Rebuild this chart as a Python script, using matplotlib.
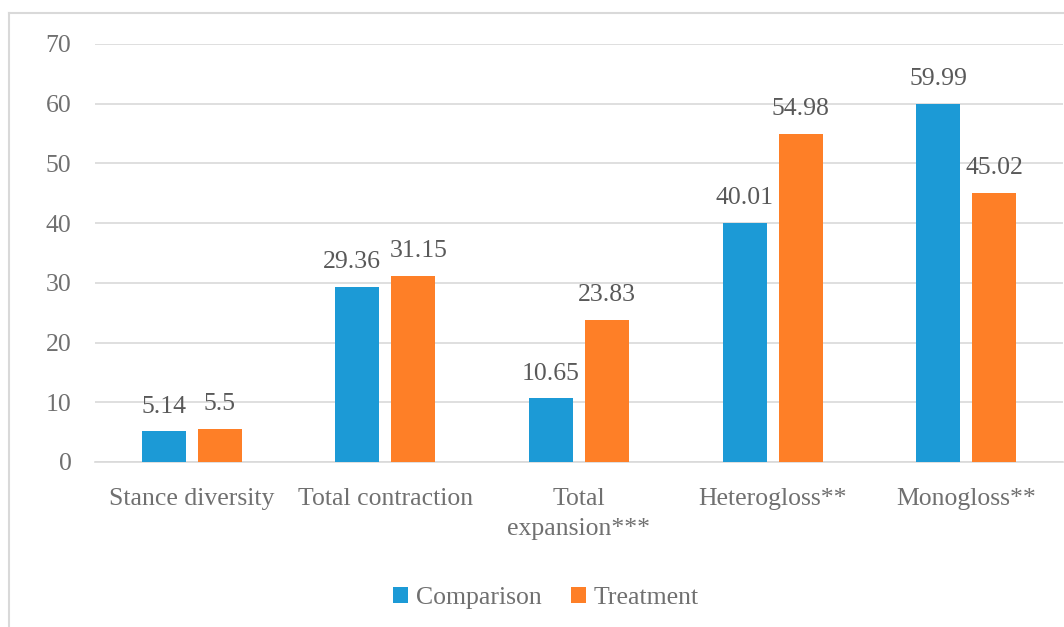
import matplotlib
matplotlib.use('Agg')
import matplotlib.pyplot as plt
from matplotlib.lines import Line2D
import numpy as np

categories = ['Stance diversity', 'Total contraction', 'Total\nexpansion***',
              'Heterogloss**', 'Monogloss**']
comparison = [5.14, 29.36, 10.65, 40.01, 59.99]
treatment = [5.5, 31.15, 23.83, 54.98, 45.02]
comparison_labels = ['5.14', '29.36', '10.65', '40.01', '59.99']
treatment_labels = ['5.5', '31.15', '23.83', '54.98', '45.02']
yticks = [0, 10, 20, 30, 40, 50, 60, 70]

blue = '#1c9ad6'
orange = '#fe7f27'
grey_text = '#707070'
grid_col = '#d9d9d9'
fs = 18.5

plt.rcParams['font.family'] = ['Liberation Serif', 'DejaVu Serif']

fig = plt.figure(figsize=(10.64, 6.27), dpi=100)
ax = fig.add_axes([95 / 1064, 1 - 462 / 627, 968 / 1064, 418 / 627])

x = np.arange(len(categories))
w = 0.227
off = 0.1446
b1 = ax.bar(x - off, comparison, w, color=blue, label='Comparison', zorder=3)
b2 = ax.bar(x + off, treatment, w, color=orange, label='Treatment', zorder=3)

# the labels in the crowded "Total contraction" pair are pushed apart a bit
for bars, labs, sign in [(b1, comparison_labels, -1), (b2, treatment_labels, 1)]:
    for i, (rect, lab) in enumerate(zip(bars, labs)):
        dx = sign * 4 if i == 1 else 0
        ax.annotate(lab, (rect.get_x() + rect.get_width() / 2, rect.get_height()),
                    xytext=(dx, 13.5), textcoords='offset points', ha='center', va='baseline',
                    fontsize=fs, color='#595959')

ax.set_ylim(0, 70)
ax.set_xlim(-0.5, len(categories) - 0.5)
ax.set_yticks(yticks)
ax.set_xticks(x)
ax.set_xticklabels(categories, fontsize=fs, color=grey_text, linespacing=1.45)
ax.tick_params(axis='y', labelsize=fs, labelcolor=grey_text, length=0, pad=17)
ax.tick_params(axis='x', length=0, pad=19)
ax.grid(axis='y', color=grid_col, linewidth=1.2, zorder=0)
for s in ['top', 'right', 'left']:
    ax.spines[s].set_visible(False)
ax.spines['bottom'].set_color(grid_col)
ax.spines['bottom'].set_linewidth(1.2)

leg = fig.legend(loc='center', bbox_to_anchor=(546 / 1064, 1 - 598 / 627), ncol=2, frameon=False,
                 fontsize=fs, handlelength=0.58, handleheight=0.58, columnspacing=1.15,
                 handletextpad=0.3, borderpad=0)
for t in leg.get_texts():
    t.set_color(grey_text)

# outer chart frame
fig.add_artist(Line2D([9 / 1064, 9 / 1064], [0, 1 - 13 / 627], color=grid_col, linewidth=1.5))
fig.add_artist(Line2D([9 / 1064, 1], [1 - 13 / 627, 1 - 13 / 627], color=grid_col, linewidth=1.5))

fig.savefig('out.png', dpi=100)
